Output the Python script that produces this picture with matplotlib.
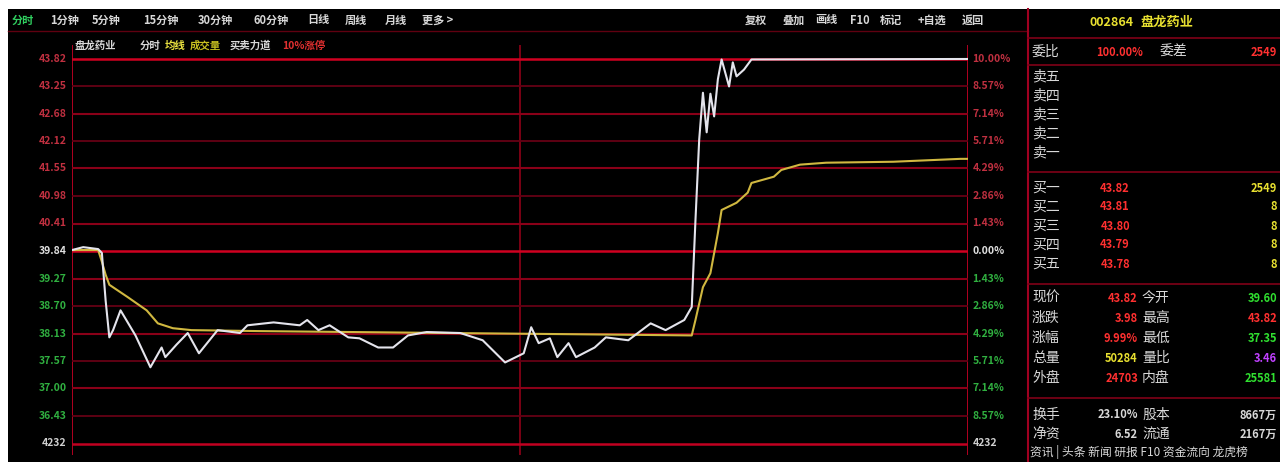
import numpy as np
import matplotlib
matplotlib.use("Agg")
import matplotlib.pyplot as plt
from matplotlib.patches import Rectangle
from matplotlib.transforms import blended_transform_factory

plt.rcParams["font.family"] = ["Noto Sans CJK SC", "DejaVu Sans"]

# region 数据
prev_close = 39.84
left_labels = ["43.82", "43.25", "42.68", "42.12", "41.55", "40.98", "40.41",
               "39.84", "39.27", "38.70", "38.13", "37.57", "37.00", "36.43"]
right_labels = ["10.00%", "8.57%", "7.14%", "5.71%", "4.29%", "2.86%", "1.43%",
                "0.00%", "1.43%", "2.86%", "4.29%", "5.71%", "7.14%", "8.57%"]
vol_label = "4232"

# 分时价格 (分钟, 价格)
price_min = [0, 3, 7, 8, 9, 10, 11, 13, 17, 21, 24, 25, 28, 31, 34, 39, 45, 47, 54,
             61, 63, 66, 69, 74, 77, 82, 86, 90, 95, 104, 110, 116, 121, 123, 125,
             128, 130, 133, 135, 140, 143, 149, 155, 159, 164, 166, 167, 168, 169,
             170, 171, 172, 173, 174, 176, 177, 178, 180, 182, 240]
price_val = [39.86, 39.92, 39.88, 39.80, 38.82, 38.05, 38.20, 38.61, 38.09, 37.43,
             37.84, 37.64, 37.90, 38.14, 37.72, 38.20, 38.14, 38.30, 38.36, 38.30,
             38.41, 38.20, 38.30, 38.05, 38.03, 37.84, 37.84, 38.09, 38.16, 38.14,
             37.99, 37.53, 37.72, 38.26, 37.93, 38.03, 37.64, 37.93, 37.64, 37.84,
             38.05, 37.99, 38.34, 38.20, 38.41, 38.68, 40.48, 42.15, 43.12, 42.30,
             43.10, 42.63, 43.40, 43.81, 43.25, 43.75, 43.46, 43.60, 43.81, 43.82]

# 均价线
avg_min = [0, 7, 8, 9, 10, 15, 20, 23, 27, 32, 50, 101, 141, 166, 167, 169, 171, 173,
           174, 178, 181, 182, 188, 190, 195, 202, 220, 238, 240]
avg_val = [39.86, 39.86, 39.62, 39.35, 39.14, 38.88, 38.61, 38.34, 38.24, 38.20, 38.18,
           38.14, 38.11, 38.09, 38.41, 39.09, 39.38, 40.21, 40.69, 40.84, 41.05,
           41.25, 41.38, 41.52, 41.63, 41.67, 41.69, 41.75, 41.75]

toolbar_left = ["分时", "1分钟", "5分钟", "15分钟", "30分钟", "60分钟", "日线", "周线", "月线", "更多 >"]
toolbar_right = ["复权", "叠加", "画线", "F10", "标记", "+自选", "返回"]

sell_names = ["卖五", "卖四", "卖三", "卖二", "卖一"]
buy_names = ["买一", "买二", "买三", "买四", "买五"]
buy_prices = ["43.82", "43.81", "43.80", "43.79", "43.78"]
buy_vols = ["2549", "8", "8", "8", "8"]

quote_left = [("现价", "43.82", "#ff3030"), ("涨跌", "3.98", "#ff3030"),
              ("涨幅", "9.99%", "#ff3030"), ("总量", "50284", "#e8e030"),
              ("外盘", "24703", "#ff3030")]
quote_right = [("今开", "39.60", "#30e030"), ("最高", "43.82", "#ff3030"),
               ("最低", "37.35", "#30e030"), ("量比", "3.46", "#c040ff"),
               ("内盘", "25581", "#30e030")]
info_rows = [("换手", "23.10%", "股本", "8667万"), ("净资", "6.52", "流通", "2167万")]
# endregion

W, H = 1280, 462
fig = plt.figure(figsize=(W / 100, H / 100), dpi=100, facecolor="white")


def fx(x):
    return x / W


def fy(y):
    return 1 - y / H


# 黑色底
fig.patches.append(Rectangle((fx(8), 0), 1 - fx(8), fy(9), transform=fig.transFigure,
                             facecolor="black", edgecolor="none", zorder=-5))

# 主图坐标：0.00% 在 y=251 像素，每格 27.5 像素
step = float(left_labels[6]) - float(left_labels[7])
px_per_price = 27.5 / step
top_px, bot_px = 45, 455
y_top = prev_close + (251 - top_px) / px_per_price
y_bot = prev_close - (bot_px - 251) / px_per_price

ax = fig.add_axes([fx(72), fy(bot_px), fx(968) - fx(72), (bot_px - top_px) / H])
ax.set_zorder(2)
ax.set_facecolor("black")
ax.set_xlim(0, 240)
ax.set_ylim(y_bot, y_top)
ax.set_xticks([])
ax.set_yticks([])
for s in ax.spines.values():
    s.set_visible(False)
ax.axvline(0, color="#b00020", lw=1.4)
ax.axvline(240, color="#b00020", lw=1.4)
ax.axvline(120, color="#900018", lw=1.2)

levels = [float(v) for v in left_labels]
for i, lv in enumerate(levels):
    if i in (0, 7):
        ax.axhline(lv, color="#d00020", lw=1.8)
    elif i % 2 == 0:
        ax.axhline(lv, color="#8a0018", lw=1.5)
    else:
        ax.axhline(lv, color="#650014", lw=1.3)
vol_level = prev_close - 7 * step
ax.axhline(vol_level, color="#c00020", lw=1.8)

ax.plot(avg_min, avg_val, color="#d0b840", lw=1.5, zorder=3)
ax.plot(price_min, price_val, color="#e4e4ec", lw=1.5, zorder=4)

tr = blended_transform_factory(ax.transAxes, ax.transData)
for i, (lv, lt, rt) in enumerate(zip(levels, left_labels, right_labels)):
    if i < 7:
        c = "#c03040"
    elif i == 7:
        c = "#e0e0e0"
    else:
        c = "#30b040"
    ax.text(-0.006, lv, lt, transform=tr, ha="right", va="center", fontsize=7.5, color=c, weight="bold")
    ax.text(1.005, lv, rt, transform=tr, ha="left", va="center", fontsize=7.5, color=c, weight="bold")
ax.text(-0.006, vol_level, vol_label, transform=tr, ha="right", va="center", fontsize=7.5,
        color="#d0d0d0", weight="bold")
ax.text(1.005, vol_level, vol_label, transform=tr, ha="left", va="center", fontsize=7.5,
        color="#d0d0d0", weight="bold")

# 顶部工具栏
xs = [12, 50, 92, 143, 198, 253, 307, 345, 385, 422]
for x, t in zip(xs, toolbar_left):
    c = "#30d060" if t == "分时" else "#d8d8d8"
    fig.text(fx(x), fy(20), t, fontsize=8, color=c, va="center", weight="bold")
xs = [745, 782, 815, 850, 880, 918, 962]
for x, t in zip(xs, toolbar_right):
    fig.text(fx(x), fy(20), t, fontsize=8, color="#d8d8d8", va="center", weight="bold")
fig.lines.append(plt.Line2D([fx(8), fx(1028)], [fy(31), fy(31)], transform=fig.transFigure,
                            color="#600010", lw=1))

# 第二行标题
title_parts = [(75, "盘龙药业", "#d8d8d8"), (140, "分时", "#d8d8d8"), (165, "均线", "#e8e040"),
               (190, "成交量", "#c8c020"), (230, "买卖力道", "#d8d8d8"), (282, "10%涨停", "#e03030")]
for x, t, c in title_parts:
    fig.text(fx(x), fy(46), t, fontsize=7.5, color=c, va="center", weight="bold")

# 右侧盘口
fig.lines.append(plt.Line2D([fx(1028), fx(1028)], [0, fy(9)], transform=fig.transFigure,
                            color="#a00020", lw=1.5))
for y in (38, 65, 172, 284, 398):
    fig.lines.append(plt.Line2D([fx(1028), 1], [fy(y), fy(y)], transform=fig.transFigure,
                                color="#800018", lw=1.2))
fig.text(fx(1090), fy(22), "002864", fontsize=9, color="#e8e030", va="center", weight="bold")
fig.text(fx(1140), fy(22), "盘龙药业", fontsize=9.5, color="#e8e030", va="center", weight="bold")

fig.text(fx(1032), fy(52), "委比", fontsize=10, color="#d8d8d8", va="center")
fig.text(fx(1096), fy(52), "100.00%", fontsize=8, color="#ff3030", va="center", weight="bold")
fig.text(fx(1160), fy(52), "委差", fontsize=10, color="#d8d8d8", va="center")
fig.text(fx(1277), fy(52), "2549", fontsize=8, color="#ff3030", va="center", ha="right", weight="bold")

for i, n in enumerate(sell_names):
    fig.text(fx(1032), fy(76 + i * 19), n, fontsize=10, color="#d8d8d8", va="center")
for i, (n, p, v) in enumerate(zip(buy_names, buy_prices, buy_vols)):
    y = 188 + i * 19
    fig.text(fx(1032), fy(y), n, fontsize=10, color="#d8d8d8", va="center")
    fig.text(fx(1130), fy(y), p, fontsize=8, color="#ff3030", va="center", ha="right", weight="bold")
    fig.text(fx(1277), fy(y), v, fontsize=8, color="#e8e030", va="center", ha="right", weight="bold")

for i, ((n1, v1, c1), (n2, v2, c2)) in enumerate(zip(quote_left, quote_right)):
    y = 298 + i * 20
    fig.text(fx(1032), fy(y), n1, fontsize=10, color="#d8d8d8", va="center")
    fig.text(fx(1138), fy(y), v1, fontsize=8, color=c1, va="center", ha="right", weight="bold")
    fig.text(fx(1142), fy(y), n2, fontsize=10, color="#d8d8d8", va="center")
    fig.text(fx(1277), fy(y), v2, fontsize=8, color=c2, va="center", ha="right", weight="bold")

for i, (n1, v1, n2, v2) in enumerate(info_rows):
    y = 415 + i * 19
    fig.text(fx(1032), fy(y), n1, fontsize=10, color="#d8d8d8", va="center")
    fig.text(fx(1138), fy(y), v1, fontsize=8, color="#d8d8d8", va="center", ha="right", weight="bold")
    fig.text(fx(1142), fy(y), n2, fontsize=10, color="#d8d8d8", va="center")
    fig.text(fx(1277), fy(y), v2, fontsize=8, color="#d8d8d8", va="center", ha="right", weight="bold")
fig.text(fx(1030), fy(452), "资讯 | 头条 新闻 研报 F10 资金流向 龙虎榜", fontsize=8.5,
         color="#d8d8d8", va="center")

fig.savefig("out.png", dpi=100, facecolor=fig.get_facecolor())
